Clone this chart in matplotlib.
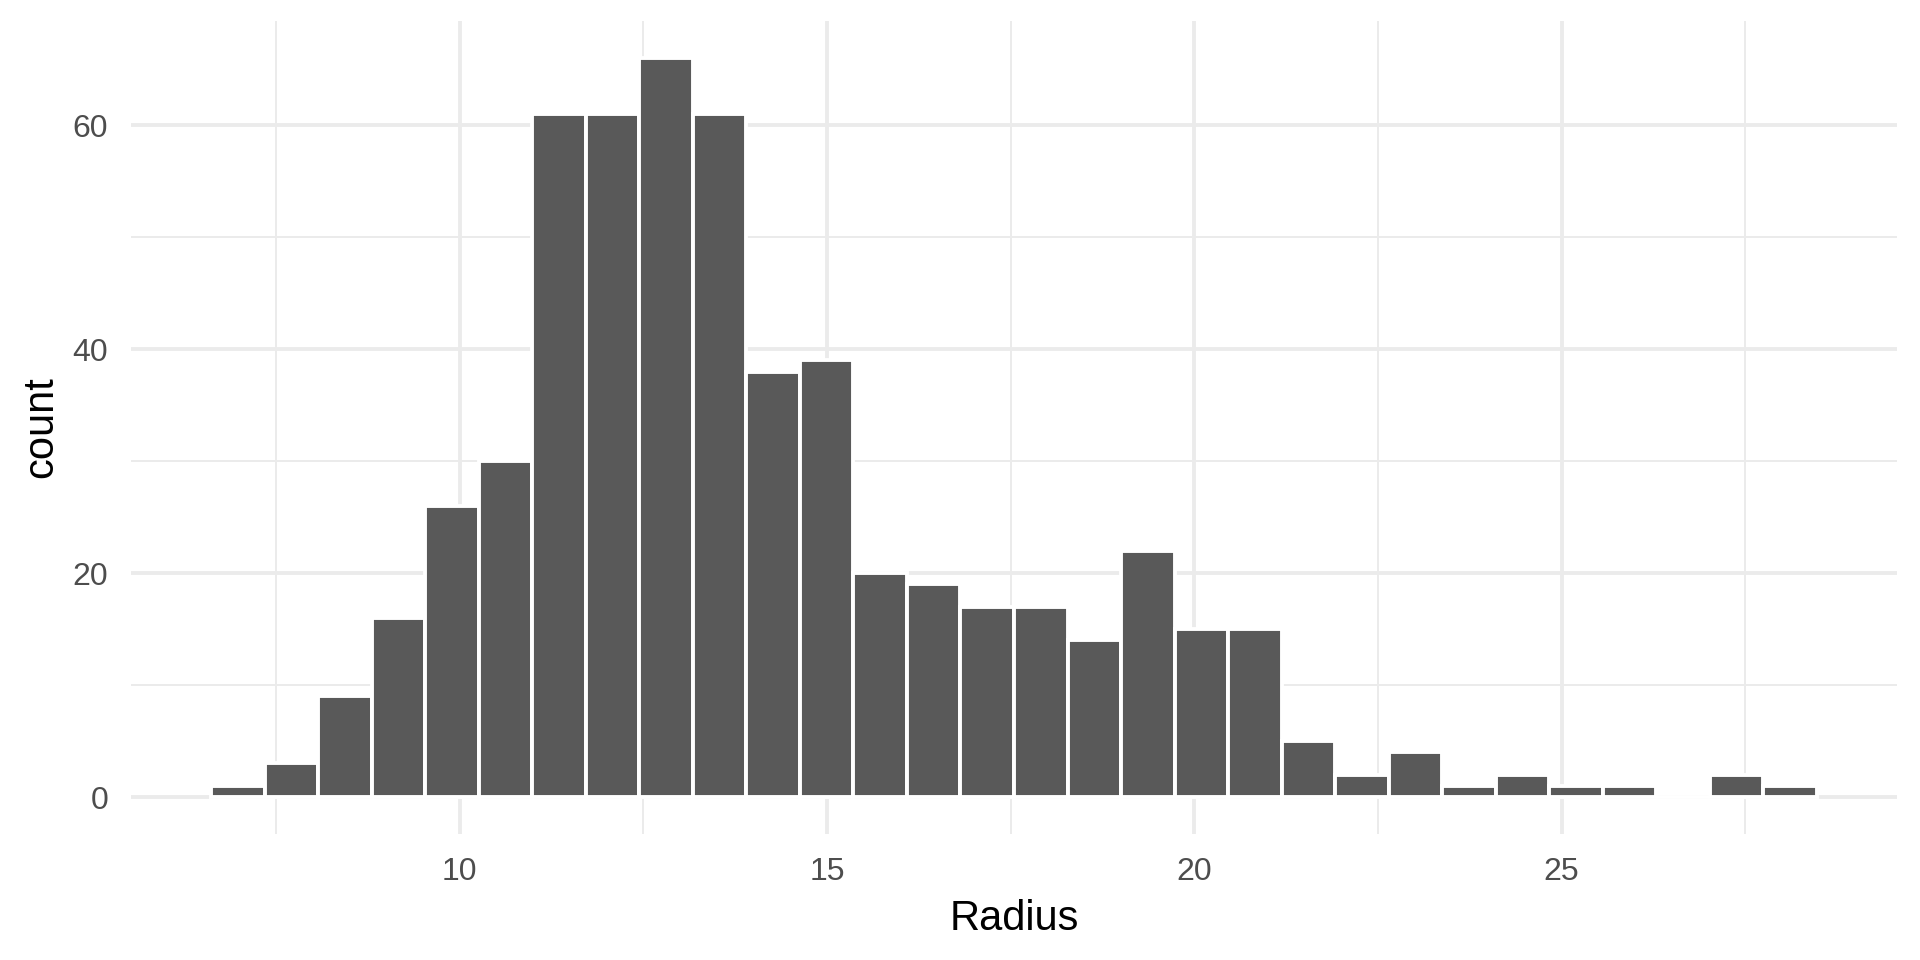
"""
plot.py
Histogram of tumour radius (30 bins), ggplot2 theme_minimal look.
"""

import matplotlib
matplotlib.use("Agg")
import matplotlib.pyplot as plt
from matplotlib.ticker import MultipleLocator

# data
radius_min = 6.981
radius_max = 28.11
n_bins = 30
counts = [1, 3, 9, 16, 26, 30, 61, 61, 66, 61,
          38, 39, 20, 19, 17, 17, 14, 22, 15, 15,
          5, 2, 4, 1, 2, 1, 1, 0, 2, 1]
x_ticks = [10, 15, 20, 25]
y_ticks = [0, 20, 40, 60]

# ggplot-style binning: first bin centred on the minimum
binwidth = (radius_max - radius_min) / (n_bins - 1)
centers = [radius_min + i * binwidth for i in range(n_bins)]

plt.rcParams['font.family'] = ['Liberation Sans', 'DejaVu Sans']

fig = plt.figure(figsize=(19.2, 9.6), dpi=100)
ax = fig.add_axes([131 / 1920, 1 - 834 / 960, (1897 - 131) / 1920, (834 - 21) / 960])

ax.bar(centers, counts, width=binwidth, color='#595959',
       edgecolor='white', linewidth=2.8, zorder=3)

# expand limits by 5% like ggplot
lo = centers[0] - binwidth / 2
hi = centers[-1] + binwidth / 2
ax.set_xlim(lo - 0.05 * (hi - lo), hi + 0.05 * (hi - lo))
top = max(counts)
ax.set_ylim(-0.05 * top, top * 1.05)

ax.set_xticks(x_ticks)
ax.set_yticks(y_ticks)
ax.xaxis.set_minor_locator(MultipleLocator(2.5))
ax.yaxis.set_minor_locator(MultipleLocator(10))
ax.grid(which='major', color='#EBEBEB', linewidth=2.8, zorder=0)
ax.grid(which='minor', color='#EBEBEB', linewidth=1.4, zorder=0)
ax.set_axisbelow(True)

for s in ax.spines.values():
    s.set_visible(False)
ax.tick_params(which='both', length=0)
ax.tick_params(which='major', labelsize=23, labelcolor='#4D4D4D', pad=16.5)

fig.text(1014 / 1920, 1 - 930 / 960, 'Radius', fontsize=30, ha='center', va='baseline')
fig.text(41 / 1920, 1 - 427.5 / 960, 'count', fontsize=30, ha='center', va='center', rotation=90)

fig.savefig('out.png', dpi=100, facecolor='white')
